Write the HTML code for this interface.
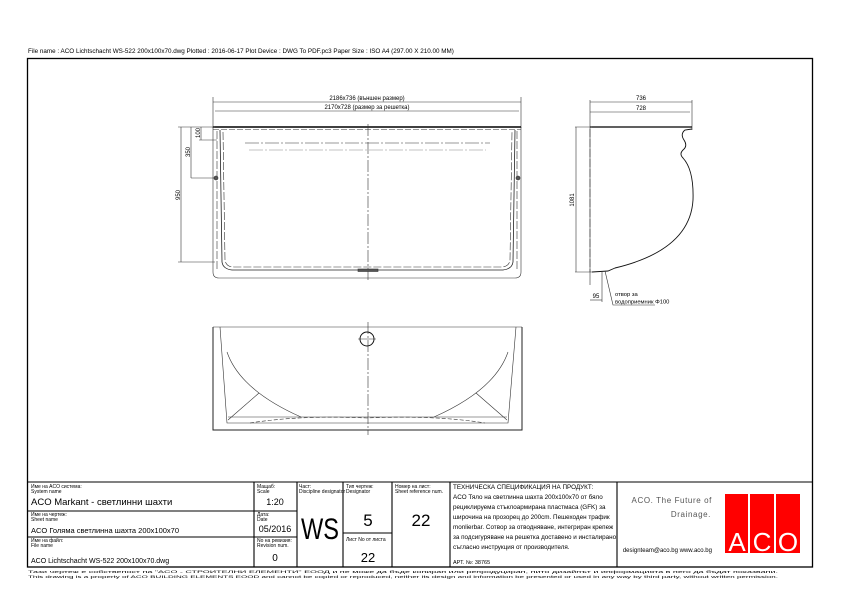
<!DOCTYPE html>
<html><head><meta charset="utf-8">
<style>
html,body{margin:0;padding:0;background:#fff;}
svg{display:block;font-family:"Liberation Sans","DejaVu Sans",sans-serif;}
</style></head>
<body>
<svg width="842" height="595" viewBox="0 0 842 595" xmlns="http://www.w3.org/2000/svg">
<rect width="842" height="595" fill="#fff"/>
<text x="28" y="53" font-size="6.3" fill="#000">File name : ACO Lichtschacht WS-522 200x100x70.dwg    Plotted : 2016-06-17    Plot Device : DWG To PDF.pc3    Paper Size : ISO  A4 (297.00 X 210.00 MM)</text>
<rect x="27.5" y="58.5" width="785" height="508.5" fill="none" stroke="#000" stroke-width="1.3"/>

<g fill="none" stroke="#333" stroke-width="0.6">
  <line x1="213" y1="97" x2="213" y2="128"/>
  <line x1="521" y1="97" x2="521" y2="128"/>
  <line x1="213" y1="102" x2="521" y2="102"/>
  <line x1="215" y1="111" x2="519" y2="111"/>
  <line x1="213" y1="127" x2="521" y2="127" stroke="#000" stroke-width="1.6"/>
  <line x1="213" y1="129.5" x2="521" y2="129.5" stroke-dasharray="6 2"/>
  <path d="M213 127 L213 272 Q213 278 219 278 L515 278 Q521 278 521 272 L521 127"/>
  <path d="M217 131 L217 270 M517 131 L517 270" stroke-dasharray="8 2"/>
  <path d="M220 130 L222 262 Q223 269 232 270 L503 270 Q512 269 513 262 L515 130" stroke="#222" stroke-width="0.8"/>
  <path d="M223 132 L225 260 Q226 267 234 267 L501 267 Q509 267 510 260 L512 132" stroke-dasharray="8 2"/>
  <line x1="245" y1="143" x2="490" y2="143" stroke-dasharray="14 2 2 2"/>
  <line x1="249" y1="150" x2="486" y2="150" stroke="#888" stroke-dasharray="14 2 2 2"/>
  <line x1="368" y1="124" x2="368" y2="282" stroke-dasharray="12 2 2 2"/>
  <rect x="358" y="269" width="20" height="2.5" fill="#555"/>
  <circle cx="216" cy="178" r="2" fill="#555"/>
  <circle cx="518" cy="178" r="2" fill="#555"/>
  <line x1="181" y1="127" x2="181" y2="262"/>
  <line x1="178" y1="127" x2="215" y2="127"/>
  <line x1="178" y1="262" x2="215" y2="262"/>
  <line x1="191" y1="127" x2="191" y2="178"/>
  <line x1="191" y1="178" x2="215" y2="178"/>
  <line x1="201" y1="127" x2="201" y2="140"/>
  <line x1="199" y1="140" x2="217" y2="140"/>
</g>
<text x="367" y="100" font-size="6" text-anchor="middle">2186x736 (външен размер)</text>
<text x="367" y="109" font-size="6" text-anchor="middle">2170x728 (размер за решетка)</text>
<text transform="translate(180 195) rotate(-90)" font-size="6" text-anchor="middle">950</text>
<text transform="translate(190 152) rotate(-90)" font-size="6" text-anchor="middle">350</text>
<text transform="translate(200 133) rotate(-90)" font-size="6" text-anchor="middle">100</text>

<g fill="none" stroke="#333" stroke-width="0.6">
  <line x1="590" y1="102" x2="692" y2="102"/>
  <line x1="590" y1="112" x2="690" y2="112"/>
  <line x1="590" y1="100" x2="590" y2="285"/>
  <line x1="692" y1="100" x2="692" y2="130"/>
  <line x1="590" y1="127" x2="692" y2="127" stroke="#000" stroke-width="1.2"/>
  <path d="M590 129 L590 272" stroke-dasharray="8 2"/>
  <path d="M692 129 L685 130 Q680 134 684 140 Q688 146 683 150 Q679 154 683 158 Q694 170 693 200 Q690 250 615 268 L608 271 L592 272" stroke="#111" stroke-width="0.9"/>
  <line x1="575" y1="127" x2="592" y2="127"/>
  <line x1="575" y1="272" x2="592" y2="272"/>
  <line x1="576" y1="127" x2="576" y2="272"/>
  <line x1="602" y1="272" x2="602" y2="302"/>
  <line x1="590" y1="300" x2="602" y2="300"/>
  <polyline points="605,271 613,305 655,305"/>
</g>
<text x="596" y="298" font-size="6" text-anchor="middle">95</text>
<text x="641" y="100" font-size="6" text-anchor="middle">736</text>
<text x="641" y="110" font-size="6" text-anchor="middle">728</text>
<text transform="translate(574 200) rotate(-90)" font-size="6" text-anchor="middle">1081</text>
<text x="615" y="296" font-size="5.8">отвор за</text>
<text x="615" y="303.5" font-size="5.8">водоприемник  Φ100</text>

<g fill="none" stroke="#333" stroke-width="0.6">
  <line x1="213" y1="327" x2="522" y2="327"/>
  <path d="M213 327 L213 430 L522 430 L522 327" stroke="#222" stroke-width="1"/>
  <path d="M220 327 L227 423 L508 423 L516 327"/>
  <path d="M227 352 Q240 390 301 417 M508 352 Q495 390 434 417"/>
  <line x1="228" y1="417" x2="507" y2="417"/>
  <path d="M228 420 L259 393 M507 420 L476 393"/>
  <path d="M250 423 Q300 415 367 418 Q435 415 485 423" stroke-dasharray="4 2"/>
  <line x1="368" y1="322" x2="368" y2="435" stroke-dasharray="12 2 2 2"/>
  <circle cx="367" cy="339" r="7" stroke="#111" stroke-width="1"/>
  <line x1="358" y1="339" x2="376" y2="339"/>
</g>

<g fill="none" stroke="#000" stroke-width="1.1">
  <line x1="27.5" y1="482" x2="812.5" y2="482"/>
  <line x1="254" y1="482" x2="254" y2="567"/>
  <line x1="297" y1="482" x2="297" y2="567"/>
  <line x1="343" y1="482" x2="343" y2="567"/>
  <line x1="392" y1="482" x2="392" y2="567"/>
  <line x1="450" y1="482" x2="450" y2="567"/>
  <line x1="617" y1="482" x2="617" y2="567"/>
  <line x1="27.5" y1="511" x2="297" y2="511"/>
  <line x1="27.5" y1="537" x2="297" y2="537"/>
  <line x1="343" y1="533" x2="392" y2="533"/>
</g>
<g font-size="5" fill="#000">
  <text x="31" y="488">Име на ACO система:</text>
  <text x="31" y="493">System name</text>
  <text x="31" y="516">Име на чертеж:</text>
  <text x="31" y="521">Sheet name</text>
  <text x="31" y="542">Име на файл:</text>
  <text x="31" y="547">File name</text>
  <text x="257" y="488">Мащаб:</text>
  <text x="257" y="493">Scale</text>
  <text x="257" y="516">Дата:</text>
  <text x="257" y="521">Date</text>
  <text x="257" y="542">No на ревизия:</text>
  <text x="257" y="547">Revision num.</text>
  <text x="299" y="488">Част:</text>
  <text x="299" y="493">Discipline designator</text>
  <text x="346" y="488">Тип чертеж:</text>
  <text x="346" y="493">Designator</text>
  <text x="346" y="541">Лист No от листа</text>
  <text x="395" y="488">Номер на лист:</text>
  <text x="395" y="493">Sheet reference num.</text>
</g>
<text x="31" y="505" font-size="9.5">ACO Markant - светлинни шахти</text>
<text x="31" y="533" font-size="7.5">ACO Голяма светлинна шахта 200x100x70</text>
<text x="31" y="563" font-size="7">ACO Lichtschacht WS-522 200x100x70.dwg</text>
<text x="275" y="505" font-size="9" text-anchor="middle">1:20</text>
<text x="275" y="532" font-size="9" text-anchor="middle">05/2016</text>
<text x="275" y="561" font-size="10" text-anchor="middle">0</text>
<text x="320" y="539" font-size="30" text-anchor="middle" textLength="38" lengthAdjust="spacingAndGlyphs">WS</text>
<text x="368" y="526" font-size="17" text-anchor="middle">5</text>
<text x="368" y="562" font-size="13" text-anchor="middle">22</text>
<text x="421" y="526" font-size="17" text-anchor="middle">22</text>
<g font-size="6.3" fill="#000">
  <text x="453" y="489">ТЕХНИЧЕСКА СПЕЦИФИКАЦИЯ НА ПРОДУКТ:</text>
  <text x="453" y="499">ACO Тяло на светлинна шахта 200x100x70 от бяло</text>
  <text x="453" y="509">рециклируема стъклоармирана пластмаса (GFK) за</text>
  <text x="453" y="519">широчина на прозорец до 200cm. Пешеходен трафик</text>
  <text x="453" y="529">monlierbar. Сотвор за отводняване, интегриран крепеж</text>
  <text x="453" y="539">за подсигуряване на решетка доставено и инсталирано</text>
  <text x="453" y="549">съгласно инструкция от производителя.</text>
  <text x="453" y="564" font-size="5.5">АРТ. №: 38765</text>
</g>
<text x="712" y="503" font-size="8" fill="#555" text-anchor="end" letter-spacing="0.6">ACO. The Future of</text>
<text x="711" y="517" font-size="8" fill="#555" text-anchor="end" letter-spacing="0.6">Drainage.</text>
<text x="712" y="552" font-size="6" fill="#000" text-anchor="end">designteam@aco.bg  www.aco.bg</text>
<g>
  <rect x="725" y="494" width="23" height="59" fill="#f00"/>
  <rect x="750" y="494" width="24" height="59" fill="#f00"/>
  <rect x="776" y="494" width="24" height="59" fill="#f00"/>
  <text x="737" y="551" font-size="26" fill="#fff" text-anchor="middle">A</text>
  <text x="762" y="551" font-size="26" fill="#fff" text-anchor="middle">C</text>
  <text x="788" y="551" font-size="26" fill="#fff" text-anchor="middle">O</text>
</g>
<text x="28" y="573" font-size="3.8" fill="#000" textLength="750" lengthAdjust="spacingAndGlyphs">Тази чертеж е собственост на "ACO - СТРОИТЕЛНИ ЕЛЕМЕНТИ" ЕООД и не може да бъде копиран или репродуциран, нито дизайнът и информацията в него да бъдат показвани.</text>
<text x="28" y="578" font-size="3.8" fill="#000" textLength="750" lengthAdjust="spacingAndGlyphs">This drawing is a property of ACO BUILDING ELEMENTS EOOD and cannot be copied or reproduced, neither its design and information be presented or used in any way by third party, without written permission.</text>
</svg>
</body></html>
